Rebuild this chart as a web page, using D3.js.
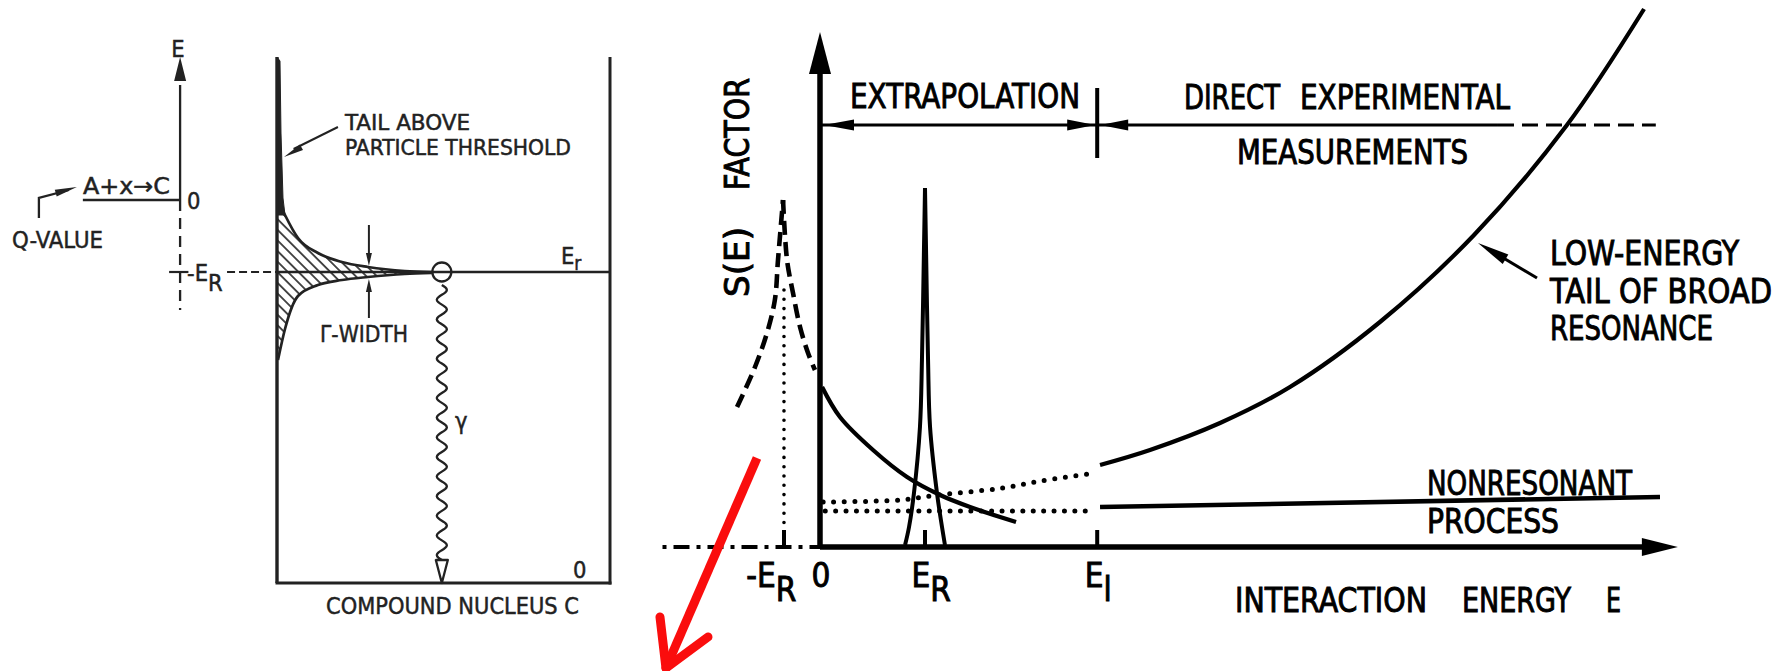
<!DOCTYPE html>
<html><head><meta charset="utf-8">
<script src="https://cdn.jsdelivr.net/npm/d3@7"></script>
<style>
html,body{margin:0;padding:0;background:#fff;}
svg{display:block;}
text{font-family:"DejaVu Sans Condensed","DejaVu Sans",sans-serif;fill:#000;}
.rt{stroke:#000;stroke-width:0.9px;}
.lt{fill:#222;stroke:#222;stroke-width:0.45px;}
</style></head><body>
<svg id="chart" width="1785" height="671"></svg>
<script>
// ================= DATA =================
// ---- Right panel: S-factor schematic (E in units of E_R, S arbitrary units) ----
const tickValues = [-0.343, 0, 1.0, 2.64];
const tickMain   = ["-E", "0", "E", "E"];
const tickSub    = ["R", "", "R", "l"];
const tickMarked = [true, false, true, true];
const tickLabelShift = [-0.12, 0.01, 0.06, 0.01];

// low-energy tail of broad resonance (measured, solid)
const broadE = [2.667, 3.143, 3.810, 4.476, 5.333, 6.229, 7.114, 7.848];
const broadS = [0.82, 0.97, 1.24, 1.60, 2.25, 3.12, 4.22, 5.38];
// its extrapolation (dotted)
const broadExtE = [0.03, 0.76, 1.124, 1.743, 2.105, 2.562];
const broadExtS = [0.45, 0.47, 0.52, 0.59, 0.66, 0.73];
// nonresonant process
const nonresE = [2.667, 8.0];
const nonresS = [0.40, 0.50];
const nonresExtE = [0.05, 2.562];
const nonresExtS = [0.36, 0.36];
// tail of subthreshold resonance (solid above threshold)
const decayE = [0.02, 0.19, 0.505, 0.829, 1.143, 1.429, 1.867];
const decayS = [1.60, 1.30, 0.97, 0.70, 0.52, 0.40, 0.25];
// subthreshold resonance at -E_R (dashed)
const subLeftE  = [-0.79, -0.619, -0.505, -0.43, -0.40, -0.352];
const subLeftS  = [1.40, 1.80, 2.14, 2.47, 2.87, 3.47];
const subRightE = [-0.352, -0.314, -0.257, -0.19, -0.114, -0.048];
const subRightS = [3.47, 2.87, 2.54, 2.20, 1.94, 1.77];
// narrow resonance at E_R
const narrowLeftE  = [0.81, 0.848, 0.895, 0.952, 0.971, 0.99, 1.0];
const narrowLeftS  = [0.02, 0.20, 0.54, 1.20, 1.87, 2.97, 3.59];
const narrowRightE = [1.0, 1.01, 1.029, 1.048, 1.114, 1.162, 1.19];
const narrowRightS = [3.59, 2.97, 1.87, 1.20, 0.54, 0.20, 0.02];
// measurement range bar
const rangeS = 4.22;
const rangeSolidEnd = 6.457, rangeDashEnd = 7.96;
const El = 2.64;
// red annotation arrow
const redShaft = [[-0.60, 0.89], [-1.467, -1.21]];
const redBarbs = [[-1.524, -0.70], [-1.067, -0.90]];

// ---- Left panel: level scheme (x = fraction of box width, y = energy units) ----
const levelThreshold = 3.83, levelRes = 3.11, levelTop = 5.26;
const lorX    = [0.003, 0.024, 0.063, 0.123, 0.195, 0.273, 0.384, 0.465];
const lorUp   = [3.83, 3.68, 3.45, 3.30, 3.21, 3.16, 3.12, 3.11];
const lorDown = [2.23, 2.54, 2.87, 2.98, 3.03, 3.06, 3.09, 3.10];
const tailX = [0, 0.009, 0.012, 0.018, 0.024, 0];
const tailY = [5.26, 5.22, 4.5, 3.85, 3.68, 3.68];
const axisXL = -0.291, circleX = 0.495, gammaWidthX = 0.276;

// ================= DRAW =================
const svg = d3.select("#chart");
svg.append("rect").attr("width",1785).attr("height",671).attr("fill","#fff");
const defs = svg.append("defs");
defs.append("pattern").attr("id","hatch").attr("patternUnits","userSpaceOnUse")
  .attr("width",7.5).attr("height",7.5).attr("patternTransform","rotate(45)")
  .append("line").attr("x1",0).attr("y1",3.75).attr("x2",7.5).attr("y2",3.75)
  .attr("stroke","#222").attr("stroke-width",1.6);

function arrowHead(g, tip, from, len, hw, fill) {
  const dx = tip[0]-from[0], dy = tip[1]-from[1], d = Math.hypot(dx,dy);
  const ux = dx/d, uy = dy/d, bx = tip[0]-ux*len, by = tip[1]-uy*len;
  const px = -uy*hw, py = ux*hw;
  g.append("path").attr("d",`M${tip[0]},${tip[1]}L${bx+px},${by+py}L${bx-px},${by-py}Z`)
    .attr("fill", fill || "#000");
}
function label(g, str, x, y, size, len, anchor, cls) {
  const t = g.append("text").attr("x",x).attr("y",y).attr("font-size",size).attr("class",cls).text(str);
  if (len) t.attr("textLength",len).attr("lengthAdjust","spacingAndGlyphs");
  if (anchor) t.attr("text-anchor",anchor);
  return t;
}

// ---------- RIGHT PANEL ----------
const xR = d3.scaleLinear().domain([0, 1]).range([820, 925]);
const yR = d3.scaleLinear().domain([0, 1]).range([547, 447]);
const R = svg.append("g");
const lineR = d3.line().x(d=>xR(d[0])).y(d=>yR(d[1]));
const FR = 33;

// axes
R.append("line").attr("x1",xR(-1.5)).attr("x2",xR(0)).attr("y1",yR(0)).attr("y2",yR(0))
  .attr("stroke","#000").attr("stroke-width",3.8).attr("stroke-dasharray","4,7,16,7");
R.append("line").attr("x1",xR(0)).attr("x2",xR(7.85)).attr("y1",yR(0)).attr("y2",yR(0))
  .attr("stroke","#000").attr("stroke-width",5.5);
arrowHead(R,[xR(8.17),yR(0)],[xR(0),yR(0)],36,9);
R.append("line").attr("x1",xR(0)).attr("x2",xR(0)).attr("y1",yR(0)+2).attr("y2",yR(4.75))
  .attr("stroke","#000").attr("stroke-width",5.5);
arrowHead(R,[xR(0),yR(5.15)],[xR(0),yR(0)],42,11);

// ticks and labels
tickValues.forEach((v,i)=>{
  if (tickMarked[i]) R.append("line").attr("x1",xR(v)).attr("x2",xR(v))
    .attr("y1",yR(0)).attr("y2",yR(0.17)).attr("stroke","#000").attr("stroke-width",4);
  const t = R.append("text").attr("x",xR(v+tickLabelShift[i])).attr("y",587)
    .attr("font-size",FR).attr("class","rt").attr("text-anchor","middle");
  t.append("tspan").text(tickMain[i]);
  if (tickSub[i]) { t.append("tspan").attr("dy",14).text(tickSub[i]); }
});

// measurement range bar
R.append("line").attr("x1",xR(0)).attr("x2",xR(rangeSolidEnd)).attr("y1",yR(rangeS)).attr("y2",yR(rangeS))
  .attr("stroke","#000").attr("stroke-width",2.8);
R.append("line").attr("x1",xR(rangeSolidEnd)).attr("x2",xR(rangeDashEnd)).attr("y1",yR(rangeS)).attr("y2",yR(rangeS))
  .attr("stroke","#000").attr("stroke-width",3.2).attr("stroke-dasharray","16,8");
R.append("line").attr("x1",xR(El)).attr("x2",xR(El)).attr("y1",yR(3.89)).attr("y2",yR(4.59))
  .attr("stroke","#000").attr("stroke-width",4);
arrowHead(R,[xR(0)+4,yR(rangeS)],[xR(1),yR(rangeS)],30,5.5);
arrowHead(R,[xR(El)-2,yR(rangeS)],[xR(0),yR(rangeS)],28,5.5);
arrowHead(R,[xR(El)+3,yR(rangeS)],[xR(5),yR(rangeS)],28,5.5);

// curves
R.append("path").datum(d3.zip(broadE,broadS)).attr("d",lineR.curve(d3.curveCatmullRom))
  .attr("fill","none").attr("stroke","#000").attr("stroke-width",4.2);
R.append("path").datum(d3.zip(broadExtE,broadExtS)).attr("d",lineR.curve(d3.curveCatmullRom))
  .attr("fill","none").attr("stroke","#000").attr("stroke-width",5)
  .attr("stroke-linecap","round").attr("stroke-dasharray","0,10.6");
R.append("path").datum(d3.zip(nonresE,nonresS)).attr("d",lineR.curve(d3.curveLinear))
  .attr("fill","none").attr("stroke","#000").attr("stroke-width",4.6);
R.append("path").datum(d3.zip(nonresExtE,nonresExtS)).attr("d",lineR.curve(d3.curveLinear))
  .attr("fill","none").attr("stroke","#000").attr("stroke-width",5)
  .attr("stroke-linecap","round").attr("stroke-dasharray","0,10.4");
R.append("path").datum(d3.zip(decayE,decayS)).attr("d",lineR.curve(d3.curveCatmullRom))
  .attr("fill","none").attr("stroke","#000").attr("stroke-width",4.2);
[[subLeftE,subLeftS],[subRightE,subRightS]].forEach(([e,s])=>{
  R.append("path").datum(d3.zip(e,s)).attr("d",lineR.curve(d3.curveCatmullRom))
    .attr("fill","none").attr("stroke","#000").attr("stroke-width",4.6).attr("stroke-dasharray","14,7");
});
R.append("line").attr("x1",xR(tickValues[0])).attr("x2",xR(tickValues[0]))
  .attr("y1",yR(2.57)).attr("y2",yR(0.17)).attr("stroke","#000").attr("stroke-width",3.6)
  .attr("stroke-linecap","round").attr("stroke-dasharray","0,9.3");
[[narrowLeftE,narrowLeftS],[narrowRightE,narrowRightS]].forEach(([e,s])=>{
  R.append("path").datum(d3.zip(e,s)).attr("d",lineR.curve(d3.curveCatmullRom))
    .attr("fill","none").attr("stroke","#000").attr("stroke-width",4);
});

// leader arrow for broad resonance
R.append("line").attr("x1",1537).attr("y1",278).attr("x2",1490).attr("y2",250)
  .attr("stroke","#000").attr("stroke-width",3);
arrowHead(R,[1478,243],[1537,278],32,5.5);

// right-panel text
label(R,"EXTRAPOLATION",850,108,FR,230,null,"rt");
label(R,"DIRECT",1184,109,FR,96,null,"rt");
label(R,"EXPERIMENTAL",1300,109,FR,210,null,"rt");
label(R,"MEASUREMENTS",1237,164,FR,231,null,"rt");
label(R,"LOW-ENERGY",1550,265,FR,189,null,"rt");
label(R,"TAIL OF BROAD",1550,303,FR,222,null,"rt");
label(R,"RESONANCE",1550,340,FR,163,null,"rt");
label(R,"NONRESONANT",1427,495,FR,205,null,"rt");
label(R,"PROCESS",1427,533,FR,132,null,"rt");
label(R,"INTERACTION",1235,612,FR,192,null,"rt");
label(R,"ENERGY",1462,612,FR,109,null,"rt");
label(R,"E",1606,612,FR,15,null,"rt");
R.append("text").attr("transform","translate(749,297) rotate(-90)").attr("font-size",FR).attr("class","rt")
  .attr("textLength",70).attr("lengthAdjust","spacingAndGlyphs").text("S(E)");
R.append("text").attr("transform","translate(749,190) rotate(-90)").attr("font-size",FR).attr("class","rt")
  .attr("textLength",112).attr("lengthAdjust","spacingAndGlyphs").text("FACTOR");

// red arrow
const red = "#fa0d0d";
R.append("line").attr("x1",xR(redShaft[0][0])).attr("y1",yR(redShaft[0][1]))
  .attr("x2",xR(redShaft[1][0])).attr("y2",yR(redShaft[1][1]))
  .attr("stroke",red).attr("stroke-width",9).attr("stroke-linecap","butt");
redBarbs.forEach(b=>{
  R.append("line").attr("x1",xR(b[0])).attr("y1",yR(b[1]))
    .attr("x2",xR(redShaft[1][0])).attr("y2",yR(redShaft[1][1]))
    .attr("stroke",red).attr("stroke-width",9).attr("stroke-linecap","round");
});

// ---------- LEFT PANEL ----------
const xL = d3.scaleLinear().domain([0, 1]).range([277, 610]);
const yL = d3.scaleLinear().domain([0, 1]).range([583, 483]);
const L = svg.append("g");
const lineL = d3.line().x(d=>xL(d[0])).y(d=>yL(d[1]));
const FL = 23.5;

// hatched Breit-Wigner shape
const lorPts = lorX.map((x,i)=>({x, up:lorUp[i], dn:lorDown[i]}));
L.append("path").datum(lorPts)
  .attr("d", d3.area().x(d=>xL(d.x)).y0(d=>yL(d.dn)).y1(d=>yL(d.up)).curve(d3.curveMonotoneX))
  .attr("fill","url(#hatch)");
L.append("path").datum(d3.zip(lorX,lorUp)).attr("d",lineL.curve(d3.curveMonotoneX))
  .attr("fill","none").attr("stroke","#222").attr("stroke-width",2.7);
L.append("path").datum(d3.zip(lorX,lorDown)).attr("d",lineL.curve(d3.curveMonotoneX))
  .attr("fill","none").attr("stroke","#222").attr("stroke-width",2.7);
L.append("path").datum(d3.zip(tailX,tailY)).attr("d",lineL.curve(d3.curveLinear))
  .attr("fill","#222").attr("stroke","#222").attr("stroke-width",1);

// box
L.append("line").attr("x1",xL(0)).attr("x2",xL(0)).attr("y1",yL(levelTop)).attr("y2",yL(0))
  .attr("stroke","#222").attr("stroke-width",3.4);
L.append("line").attr("x1",xL(1)).attr("x2",xL(1)).attr("y1",yL(levelTop)).attr("y2",yL(0)+1.5)
  .attr("stroke","#222").attr("stroke-width",3);
L.append("line").attr("x1",xL(0)-1.5).attr("x2",xL(1)+1.5).attr("y1",yL(0)).attr("y2",yL(0))
  .attr("stroke","#222").attr("stroke-width",3.2);

// resonance level
L.append("line").attr("x1",xL(0)).attr("x2",xL(1)).attr("y1",yL(levelRes)).attr("y2",yL(levelRes))
  .attr("stroke","#222").attr("stroke-width",2.6);
L.append("line").attr("x1",xL(-0.150)).attr("x2",xL(0)).attr("y1",yL(levelRes)).attr("y2",yL(levelRes))
  .attr("stroke","#222").attr("stroke-width",2.2).attr("stroke-dasharray","8,4");
L.append("line").attr("x1",xL(-0.324)).attr("x2",xL(-0.266)).attr("y1",yL(levelRes)).attr("y2",yL(levelRes))
  .attr("stroke","#222").attr("stroke-width",2.2);

// energy axis
L.append("line").attr("x1",xL(axisXL)).attr("x2",xL(axisXL)).attr("y1",yL(levelThreshold)).attr("y2",yL(4.98))
  .attr("stroke","#222").attr("stroke-width",2.3);
arrowHead(L,[xL(axisXL),yL(levelTop)],[xL(axisXL),yL(0)],24,6,"#222");
L.append("line").attr("x1",xL(axisXL)).attr("x2",xL(axisXL)).attr("y1",yL(levelThreshold)).attr("y2",yL(2.73))
  .attr("stroke","#222").attr("stroke-width",2.3).attr("stroke-dasharray","11,7");
L.append("line").attr("x1",xL(-0.583)).attr("x2",xL(axisXL)).attr("y1",yL(levelThreshold)).attr("y2",yL(levelThreshold))
  .attr("stroke","#222").attr("stroke-width",2.3);

// Q-value bent arrow
L.append("path").datum([[-0.715,3.65],[-0.715,3.85],[-0.625,3.93]]).attr("d",lineL.curve(d3.curveLinear))
  .attr("fill","none").attr("stroke","#222").attr("stroke-width",2.3);
arrowHead(L,[xL(-0.601),yL(3.96)],[xL(-0.715),yL(3.85)],22,3.5,"#222");

// tail leader
L.append("line").attr("x1",xL(0.183)).attr("y1",yL(4.56)).attr("x2",xL(0.05)).attr("y2",yL(4.34))
  .attr("stroke","#222").attr("stroke-width",2);
arrowHead(L,[xL(0.021),yL(4.26)],[xL(0.183),yL(4.56)],20,3.2,"#222");

// Gamma-width arrows
L.append("line").attr("x1",xL(gammaWidthX)).attr("x2",xL(gammaWidthX)).attr("y1",yL(3.58)).attr("y2",yL(3.27))
  .attr("stroke","#222").attr("stroke-width",2);
arrowHead(L,[xL(gammaWidthX),yL(3.17)],[xL(gammaWidthX),yL(3.58)],13,3,"#222");
L.append("line").attr("x1",xL(gammaWidthX)).attr("x2",xL(gammaWidthX)).attr("y1",yL(2.65)).attr("y2",yL(2.94))
  .attr("stroke","#222").attr("stroke-width",2);
arrowHead(L,[xL(gammaWidthX),yL(3.04)],[xL(gammaWidthX),yL(2.65)],13,3,"#222");

// gamma transition (wavy line)
{
  const x0 = xL(circleX), yTop = yL(2.98), yBot = yL(0.23);
  const nPer = 14, amp = 5, pts = [];
  for (let i=0;i<=nPer*16;i++){ const t=i/(nPer*16); pts.push([x0+amp*Math.sin(2*Math.PI*nPer*t), yTop+(yBot-yTop)*t]); }
  L.append("path").attr("d",d3.line()(pts)).attr("fill","none").attr("stroke","#222").attr("stroke-width",2.3);
  L.append("path").attr("d",`M${x0-6},${yBot}L${x0+6},${yBot}L${x0},${yL(0)}Z`)
    .attr("fill","#fff").attr("stroke","#222").attr("stroke-width",2.3).attr("stroke-linejoin","round");
}
L.append("circle").attr("cx",xL(circleX)).attr("cy",yL(levelRes)).attr("r",9.5)
  .attr("fill","none").attr("stroke","#222").attr("stroke-width",2.3);

// left-panel text
label(L,"E",178,57,FL,null,"middle","lt");
label(L,"A+x\u2192C",83,194,FL,87,null,"lt");
label(L,"0",187,209,FL,null,null,"lt");
label(L,"Q-VALUE",12,248,FL,91,null,"lt");
{ const t = L.append("text").attr("x",187).attr("y",281).attr("font-size",FL).attr("class","lt");
  t.append("tspan").text("-E"); t.append("tspan").attr("dy",10).text("R"); }
label(L,"TAIL ABOVE",345,129.5,21,125,null,"lt");
label(L,"PARTICLE THRESHOLD",345,154.5,21,226,null,"lt");
{ const t = L.append("text").attr("x",561).attr("y",264).attr("font-size",FL).attr("class","lt");
  t.append("tspan").text("E"); t.append("tspan").attr("dy",6).attr("font-size",19).text("r"); }
label(L,"\u0393-WIDTH",320,342,FL,88,null,"lt");
label(L,"\u03b3",455,429,FL,null,null,"lt");
label(L,"0",573,578,FL,null,null,"lt");
label(L,"COMPOUND NUCLEUS C",326,614,FL,253,null,"lt");
</script>
</body></html>
